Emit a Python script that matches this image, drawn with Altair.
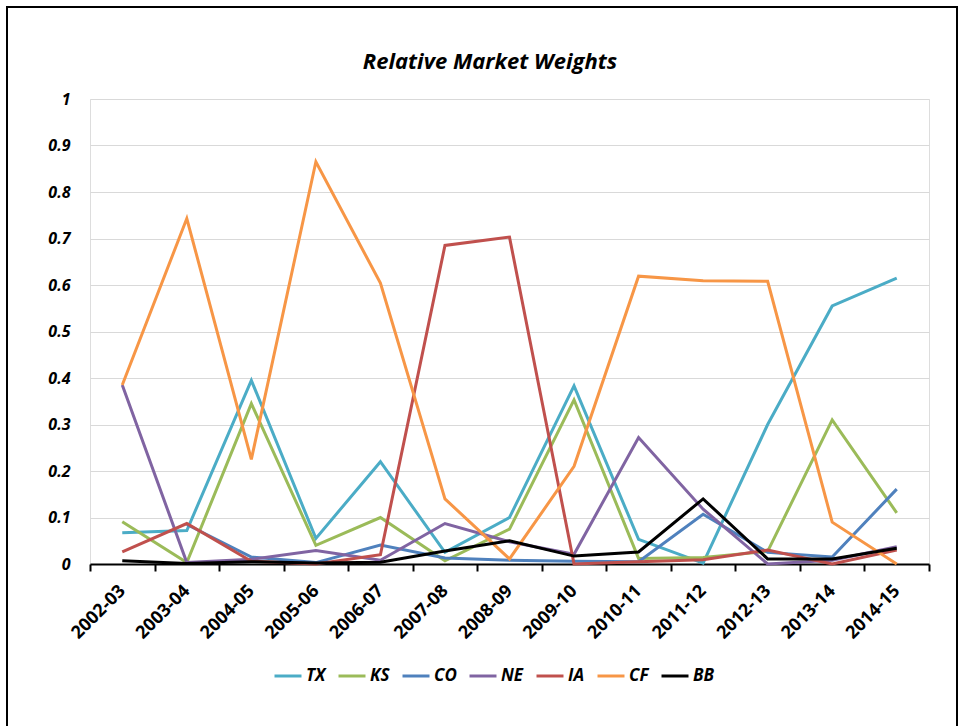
import altair as alt
import pandas as pd

# Seasons on the x axis
seasons = ["2002-03", "2003-04", "2004-05", "2005-06", "2006-07", "2007-08", "2008-09",
           "2009-10", "2010-11", "2011-12", "2012-13", "2013-14", "2014-15"]

# Relative market weight of each market, by season
tx = [0.067, 0.072, 0.395, 0.055, 0.220, 0.025, 0.100, 0.383, 0.053, 0.002, 0.300, 0.555, 0.615]
ks = [0.091, 0.003, 0.345, 0.040, 0.100, 0.007, 0.075, 0.353, 0.012, 0.014, 0.027, 0.310, 0.110]
co = [None, 0.085, 0.015, 0.003, 0.041, 0.013, 0.008, 0.006, 0.005, 0.107, 0.025, 0.015, 0.161]
ne = [0.385, 0.003, 0.010, 0.029, 0.008, 0.087, 0.048, 0.021, 0.272, 0.118, 0.000, 0.008, 0.037]
ia = [0.026, 0.087, 0.006, 0.000, 0.020, 0.685, 0.703, 0.000, 0.005, 0.009, 0.030, 0.000, 0.030]
cf = [0.385, 0.743, 0.225, 0.865, 0.604, 0.140, 0.011, 0.210, 0.619, 0.609, 0.608, 0.090, 0.000]
bb = [0.007, 0.001, 0.005, 0.002, 0.004, 0.028, 0.050, 0.017, 0.026, 0.140, 0.011, 0.011, 0.034]

markets = ["TX", "KS", "CO", "NE", "IA", "CF", "BB"]
colors = ["#4BACC6", "#9BBB59", "#4F81BD", "#8064A2", "#C0504D", "#F79646", "#000000"]
y_ticks = [0, 0.1, 0.2, 0.3, 0.4, 0.5, 0.6, 0.7, 0.8, 0.9, 1]
title_text = "Relative Market Weights"

series = dict(zip(markets, [tx, ks, co, ne, ia, cf, bb]))
rows = []
for order, name in enumerate(markets):
    for season, value in zip(seasons, series[name]):
        rows.append({"season": season, "market": name, "weight": value, "order": order})
df = pd.DataFrame(rows)

FONT = "Open Sans"

lines = alt.Chart(df).mark_line(strokeWidth=3, strokeJoin="miter", clip=False).encode(
    x=alt.X(
        "season:O",
        sort=seasons,
        bandPosition=0.5,
        scale=alt.Scale(type="band", paddingInner=0, paddingOuter=0),
        axis=alt.Axis(
            title=None,
            labelAngle=-45,
            labelAlign="right",
            labelBaseline="middle",
            labelPadding=17,
            labelFont=FONT,
            labelFontSize=18,
            labelFontWeight="bold",
            labelColor="black",
            tickBand="extent",
            ticks=True,
            tickSize=7,
            tickWidth=2,
            tickColor="black",
            domainColor="black",
            domainWidth=2,
            grid=False,
        ),
    ),
    y=alt.Y(
        "weight:Q",
        scale=alt.Scale(domain=[0, 1], nice=False),
        axis=alt.Axis(
            title=None,
            values=y_ticks,
            format="~g",
            labelFont=FONT,
            labelFontSize=16,
            labelFontWeight="bold",
            labelFontStyle="italic",
            labelColor="black",
            labelPadding=20,
            ticks=False,
            domain=False,
            grid=True,
            gridColor="#d9d9d9",
            gridWidth=1,
        ),
    ),
    color=alt.Color(
        "market:N",
        sort=markets,
        scale=alt.Scale(domain=markets, range=colors),
        legend=alt.Legend(
            title=None,
            orient="none",
            direction="horizontal",
            legendX=183,
            legendY=562,
            symbolType="stroke",
            symbolSize=729,
            symbolStrokeWidth=3,
            labelFont=FONT,
            labelFontSize=17,
            labelFontWeight="bold",
            labelFontStyle="italic",
            labelColor="black",
            labelOffset=3,
            columnPadding=6,
        ),
    ),
    order=alt.Order("order:Q"),
)

deco = alt.Chart(pd.DataFrame({"f": [0]}))

# Border around the whole chart area
frame = deco.mark_rect(fillOpacity=0, stroke="black", strokeWidth=2).encode(
    x=alt.value(-83), x2=alt.value(867), y=alt.value(-92), y2=alt.value(640)
)

# Chart heading above the plot box
heading = deco.mark_text(
    text=title_text,
    font=FONT,
    fontSize=22,
    fontWeight="bold",
    fontStyle="italic",
    color="black",
    align="center",
    baseline="middle",
).encode(x=alt.value(400), y=alt.value(-37))

chart = alt.layer(lines, frame, heading).properties(
    width=839,
    height=465,
    autosize=alt.AutoSizeParams(type="none"),
    padding={"left": 90, "top": 99, "right": 33, "bottom": 162},
).configure_view(
    stroke="black", strokeWidth=2
).configure(background="white")

chart.save("out.html", embed_options={"renderer": "svg", "actions": False})
